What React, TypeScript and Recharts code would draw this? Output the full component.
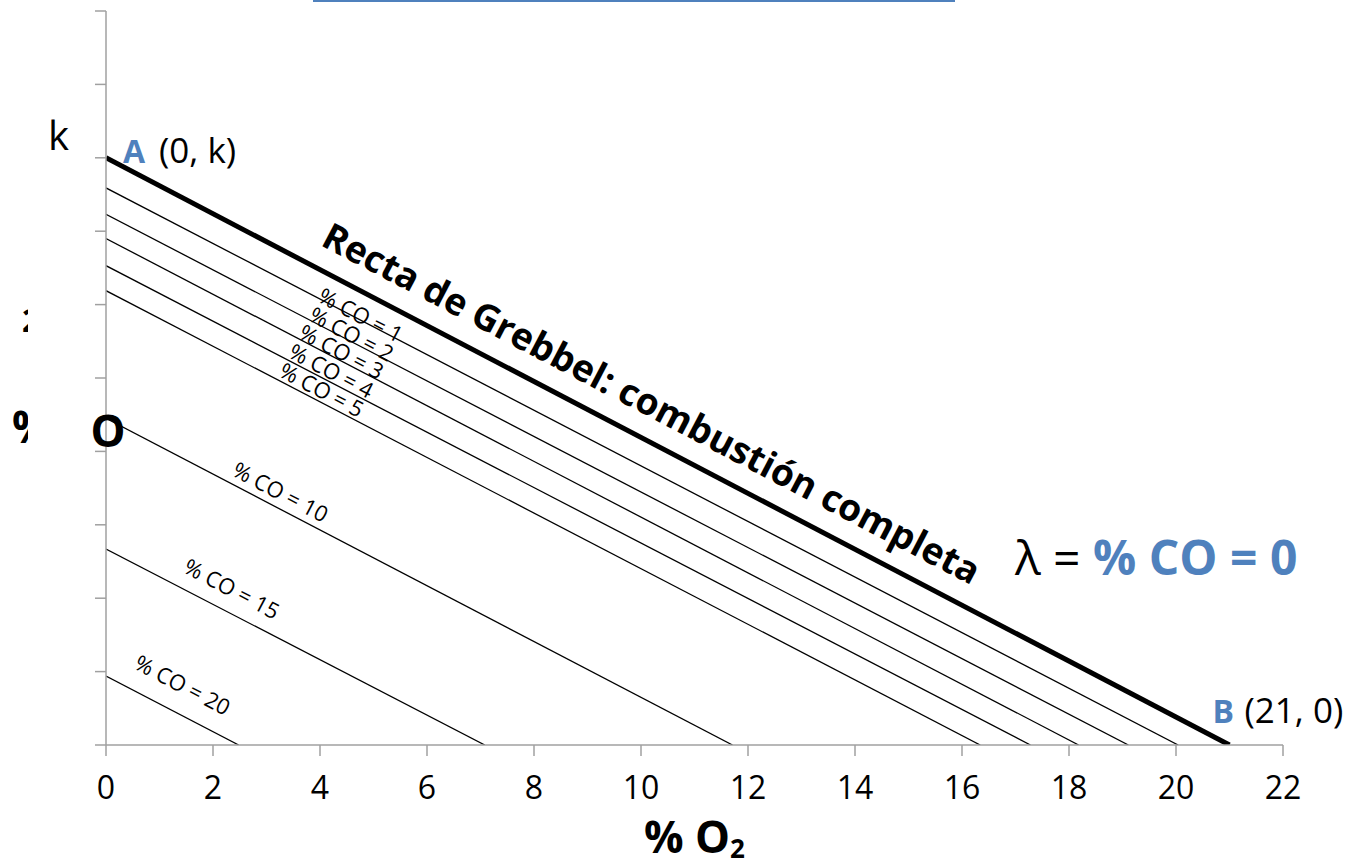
import React from 'react';
import { LineChart, Line, XAxis, YAxis, ReferenceDot } from 'recharts';

const FONT = '"Open Sans", "Noto Sans", sans-serif';
const BLUE = '#4F81BD';
const ANGLE = 27.6;

// Each line: %CO level, CO2 value at O2 = 0, O2 value at CO2 = 0
const coLevels = [0, 1, 2, 3, 4, 5, 10, 15, 20];
const co2AtZeroO2 = [8, 7.59, 7.23, 6.9, 6.53, 6.19, 4.45, 2.67, 0.94];
const o2AtZeroCo2 = [21, 20.04, 19.11, 18.18, 17.28, 16.34, 11.71, 7.08, 2.48];

// label anchor positions (data coordinates) for the %CO labels
const labelXs = [0, 4.77, 4.6, 4.41, 4.22, 4.04, 3.27, 2.36, 1.44];
const labelYs = [0, 5.87, 5.61, 5.37, 5.11, 4.85, 3.46, 2.14, 0.83];

const xTicks = [0, 2, 4, 6, 8, 10, 12, 14, 16, 18, 20, 22];
const yTicks = [0, 1, 2, 3, 4, 5, 6, 7, 8, 9, 10];

const pointA = { x: 0, y: 8 };
const pointB = { x: 21, y: 0 };
const titleAnchor = { x: 10.21, y: 4.67 };
const lambdaAnchor = { x: 16.99, y: 2.32 };

const lines = coLevels.map((co, i) => ({
  co,
  data: [
    { x: 0, y: co2AtZeroO2[i] },
    { x: o2AtZeroCo2[i], y: 0 },
  ],
}));

const Txt = (props: any) => <text fontFamily={FONT} {...props} />;

export default function App() {
  return (
    <div style={{ position: 'absolute', left: 0, top: 0, width: 1351, height: 868, background: '#fff' }}>
      <div style={{ position: 'absolute', left: 313, top: 0, width: 642, height: 2, background: BLUE }} />
      <LineChart width={1351} height={868} margin={{ top: 11, right: 68, bottom: 23, left: 46 }}>
        <XAxis
          type="number"
          dataKey="x"
          domain={[0, 22]}
          ticks={xTicks}
          allowDataOverflow
          height={100}
          stroke="#A0A0A0"
          strokeWidth={1.5}
          tickSize={11}
          tickMargin={20}
          tick={{ fontSize: 32, fill: '#000', fontFamily: FONT }}
        />
        <YAxis
          type="number"
          dataKey="y"
          domain={[0, 10]}
          ticks={yTicks}
          allowDataOverflow
          width={60}
          stroke="#A0A0A0"
          strokeWidth={1.5}
          tickSize={11}
          tickFormatter={() => ''}
        />
        {lines.map((l) => (
          <Line
            key={l.co}
            data={l.data}
            dataKey="y"
            type="linear"
            stroke="#000"
            strokeWidth={l.co === 0 ? 5 : 1.3}
            dot={false}
            activeDot={false}
            isAnimationActive={false}
          />
        ))}
        {lines.slice(1).map((l, j) => (
          <ReferenceDot
            key={'lab' + l.co}
            x={labelXs[j + 1]}
            y={labelYs[j + 1]}
            r={1}
            ifOverflow="visible"
            shape={(p: any) => (
              <Txt
                x={p.cx}
                y={p.cy}
                fontSize={22}
                textAnchor="middle"
                dominantBaseline="central"
                transform={`rotate(${ANGLE} ${p.cx} ${p.cy})`}
              >
                {`% CO = ${l.co}`}
              </Txt>
            )}
          />
        ))}
        <ReferenceDot
          x={titleAnchor.x}
          y={titleAnchor.y}
          r={1}
          ifOverflow="visible"
          shape={(p: any) => (
            <Txt
              x={p.cx}
              y={p.cy}
              fontSize={37}
              fontWeight="bold"
              textAnchor="middle"
              dominantBaseline="central"
              transform={`rotate(${ANGLE} ${p.cx} ${p.cy})`}
            >
              Recta de Grebbel: combustión completa
            </Txt>
          )}
        />
        <ReferenceDot
          x={pointA.x}
          y={pointA.y}
          r={1}
          ifOverflow="visible"
          shape={(p: any) => (
            <g>
              <Txt x={p.cx - 58} y={p.cy - 8} fontSize={40}>k</Txt>
              <Txt x={p.cx + 17} y={p.cy + 5} fontSize={32} fontWeight="bold" fill={BLUE}>A</Txt>
              <Txt x={p.cx + 53} y={p.cy + 5} fontSize={35}>(0, k)</Txt>
            </g>
          )}
        />
        <ReferenceDot
          x={pointB.x}
          y={pointB.y}
          r={1}
          ifOverflow="visible"
          shape={(p: any) => (
            <g>
              <Txt x={p.cx - 17} y={p.cy - 22} fontSize={32} fontWeight="bold" fill={BLUE}>B</Txt>
              <Txt x={p.cx + 15} y={p.cy - 22} fontSize={35}>(21, 0)</Txt>
            </g>
          )}
        />
        <ReferenceDot
          x={lambdaAnchor.x}
          y={lambdaAnchor.y}
          r={1}
          ifOverflow="visible"
          shape={(p: any) => (
            <Txt x={p.cx} y={p.cy} fontSize={48}>
              <tspan fill="#000">λ = </tspan>
              <tspan fill={BLUE} fontWeight="bold">% CO = 0</tspan>
            </Txt>
          )}
        />
        <ReferenceDot
          x={11}
          y={0}
          r={1}
          ifOverflow="visible"
          shape={(p: any) => (
            <Txt x={p.cx} y={p.cy + 108} fontSize={44} fontWeight="bold" textAnchor="middle">
              % O<tspan fontSize={26} dy={5}>2</tspan>
            </Txt>
          )}
        />
        <ReferenceDot
          x={0}
          y={4}
          r={1}
          ifOverflow="visible"
          shape={(p: any) => (
            <g>
              <defs>
                <clipPath id="leftClip">
                  <rect x={p.cx - 106} y={p.cy - 200} width={28} height={300} />
                </clipPath>
              </defs>
              <g clipPath="url(#leftClip)">
                <Txt x={p.cx - 94} y={p.cy - 8} fontSize={44} fontWeight="bold">%</Txt>
                <Txt x={p.cx - 84} y={p.cy - 119} fontSize={32} fontWeight="bold">2</Txt>
              </g>
              <Txt x={p.cx + 2} y={p.cy - 4} fontSize={44} fontWeight="bold" textAnchor="middle">O</Txt>
            </g>
          )}
        />
      </LineChart>
    </div>
  );
}
